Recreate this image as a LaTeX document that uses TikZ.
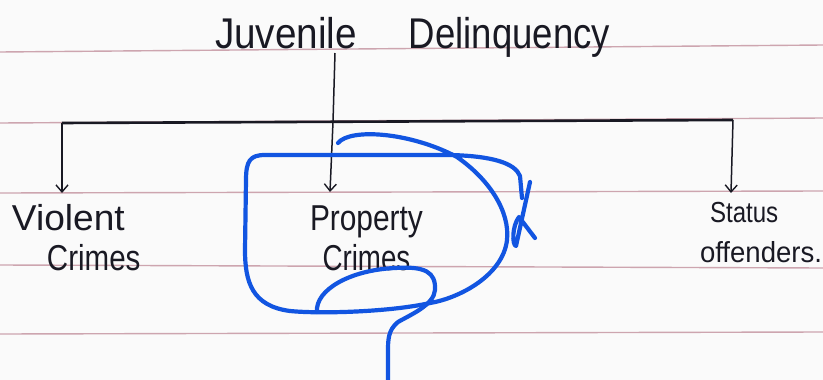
\documentclass[tikz,border=0pt]{standalone}
\usepackage{fontspec}
\usepackage{graphicx}
\setmainfont{Liberation Sans}
\usetikzlibrary{arrows.meta}
\definecolor{paper}{RGB}{250,250,250}
\definecolor{rule}{RGB}{205,165,175}
\definecolor{ink}{RGB}{25,25,35}
\definecolor{pen}{RGB}{18,85,225}
\tikzset{
  ruleline/.style={rule, line width=1.4pt},
  inkline/.style={ink, line width=1.5pt},
  barline/.style={ink, line width=2.6pt},
  arr/.style={inkline, -{Straight Barb[length=7pt,width=12pt,line width=1.4pt]}},
  hand/.style={ink, inner sep=0pt, outer sep=0pt},
  scribble/.style={pen, line width=4.2pt, line cap=round, line join=round}
}
\begin{document}
\begin{tikzpicture}[x=1pt,y=-1pt]
\useasboundingbox (0,0) rectangle (823,380);
\fill[paper] (0,0) rectangle (823,380);
% ruled lines
\draw[ruleline] (0,52) -- (823,45);
\draw[ruleline] (0,123) -- (823,118);
\draw[ruleline] (0,193) -- (823,191);
\draw[ruleline] (0,265) -- (823,268);
\draw[ruleline] (0,334) -- (823,332);
% title
\node[hand, anchor=base west, font=\fontsize{43}{46}\selectfont] (jd) at (215,48)
  {\scalebox{0.9}[1]{Juvenile}\hspace{52pt}\scalebox{0.85}[1]{Delinquency}};
% tree
\coordinate (jdfoot) at (335,53);
\coordinate (barL) at (62,123);
\coordinate (barM) at (333,122);
\coordinate (barR) at (733,120);
\coordinate (tipV) at (62,193);
\coordinate (tipP) at (330,192);
\coordinate (tipS) at (731,193);
\draw[barline] (barL) -- (barR);
\draw[inkline] (jdfoot) -- (barM);
\draw[arr] (barM) -- (tipP);
\draw[arr] (barL) -- (tipV);
\draw[arr] (barR) -- (tipS);
% labels (base anchor = baseline of last line)
\node[hand, anchor=base west, align=left, font=\fontsize{36}{40}\selectfont] (vc) at (12,270)
  {\scalebox{1.03}[1]{Violent}\\\hspace*{35pt}\scalebox{0.82}[1]{Crimes}};
\node[hand, anchor=base west, align=center, font=\fontsize{36}{40}\selectfont] (pc) at (310,270)
  {\scalebox{0.83}[1]{Property}\\\scalebox{0.77}[1]{Crimes}};
\node[hand, anchor=base west, align=left, font=\fontsize{29}{40}\selectfont] (so) at (700,262)
  {\hspace*{10pt}\scalebox{0.83}[1]{Status}\\\scalebox{0.95}[1]{offenders.}};
% blue scribble
\draw[scribble] (338,143) .. controls (350,128) and (410,132) .. (457,157)
  .. controls (490,180) and (510,212) .. (507,240)
  .. controls (503,275) and (460,298) .. (430,303)
  .. controls (390,312) and (320,314) .. (290,311)
  .. controls (252,306) and (245,282) .. (245,250)
  -- (246,180) .. controls (246,161) and (250,155) .. (265,155)
  -- (450,155) .. controls (492,156) and (515,163) .. (520,176) -- (522,198);
\draw[scribble] (317,312) .. controls (315,290) and (350,270) .. (395,268)
  .. controls (425,266) and (436,272) .. (435,290)
  .. controls (434,305) and (410,315) .. (398,322)
  .. controls (388,330) and (388,340) .. (388,352) -- (388,382);
\draw[scribble] (535,238) -- (519,217) .. controls (512,226) and (512,245) .. (516,246) -- (530,182);
\end{tikzpicture}
\end{document}
